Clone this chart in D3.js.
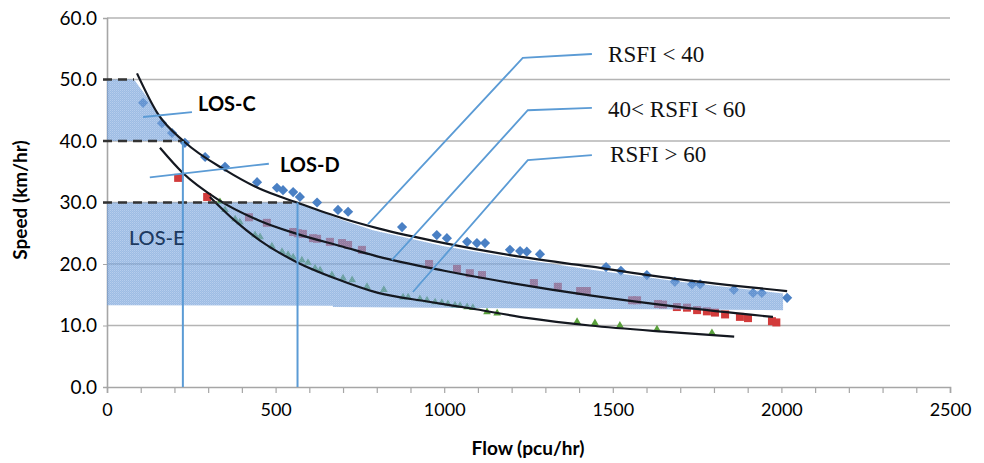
<!DOCTYPE html>
<html><head><meta charset="utf-8">
<script src="https://cdn.jsdelivr.net/npm/d3@7"></script>
<style>body{margin:0;background:#fff}svg{display:block}</style>
</head><body><div id="chart"></div>
<script>
// ---------- data (flow pcu/hr, speed km/hr) ----------
const xTicks = [0, 500, 1000, 1500, 2000, 2500];
const yTicks = [0, 10, 20, 30, 40, 50, 60];
const seriesNames = ["RSFI < 40", "40< RSFI < 60", "RSFI > 60"];

const rsfiLow = [[107,46.2],[163,42.9],[193,41.3],[231,39.7],[291,37.4],[350,35.8],[445,33.3],[504,32.4],[522,32.0],[552,31.7],[572,30.9],[623,30.0],[685,28.8],[715,28.5],[875,26.0],[978,24.7],[1008,24.2],[1068,23.6],[1097,23.4],[1121,23.4],[1195,22.3],[1225,22.1],[1245,22.0],[1284,21.6],[1480,19.5],[1524,18.9],[1601,18.2],[1684,17.1],[1735,16.7],[1759,16.7],[1859,15.8],[1916,15.3],[1942,15.3],[2017,14.5]];
const rsfiMid = [[211,34.0],[297,30.9],[421,27.6],[474,26.7],[552,25.2],[566,25.0],[581,24.9],[611,24.2],[623,24.1],[661,23.6],[697,23.4],[715,23.1],[756,22.3],[955,20.0],[1038,19.2],[1076,18.5],[1112,18.2],[1266,16.9],[1337,16.3],[1403,15.6],[1423,15.6],[1557,14.1],[1572,14.1],[1634,13.5],[1649,13.4],[1690,13.0],[1720,12.9],[1750,12.5],[1779,12.3],[1803,12.1],[1833,11.8],[1877,11.4],[1901,11.2],[1972,10.7],[1985,10.5]];
const rsfiHigh = [[335,30.1],[350,28.8],[380,27.3],[394,26.8],[439,24.7],[454,24.4],[489,22.9],[519,22.0],[537,21.5],[552,21.1],[578,20.6],[596,20.2],[617,19.3],[632,19.0],[667,18.2],[700,17.7],[727,17.4],[771,16.3],[821,15.8],[878,14.6],[893,14.6],[928,14.3],[949,14.1],[973,13.8],[993,13.7],[1011,13.5],[1032,13.3],[1047,13.2],[1068,13.0],[1085,12.9],[1127,12.2],[1157,12.0],[1394,10.6],[1447,10.4],[1521,10.0],[1631,9.4],[1794,8.8]];

// trend lines
const trendLow  = [[89,51.0],[150,44.5],[231,39.8],[350,35.3],[450,32.3],[563,30.0],[700,27.4],[804,25.8],[1000,23.4],[1200,21.4],[1432,19.6],[1700,17.5],[2017,15.6]];
const trendMid  = [[157,38.9],[225,34.8],[326,30.6],[454,27.0],[563,24.9],[700,22.8],[804,21.2],[1000,18.9],[1200,16.9],[1432,14.9],[1700,13.0],[1975,11.4]];
const trendHigh = [[305,30.9],[380,27.0],[454,23.8],[563,20.3],[680,17.6],[804,15.3],[950,13.9],[1076,12.8],[1250,11.2],[1432,10.0],[1650,9.0],[1860,8.2]];

// level-of-service zones
const losC = [[0,50],[80,50],[130,46.3],[175,42.6],[222,40],[0,40]];
const losE = [[0,30],[563,30],[623,28.8],[700,27.1],[789,25.5],[1000,22.9],[1200,21.0],[1432,19.1],[1700,17.1],[2005,15.2],[2005,12.5],[670,13.0],[670,13.2],[0,13.3]];
const losDashes = [[50,80],[40,222],[30,563]];      // [speed, flow end]
const losVerticals = [[225,40],[565,30]];           // [flow, speed top]

const losLabels = [
  {text:"LOS-C", at:[270,44.9], leader:[[107,43.9],[252,44.7]]},
  {text:"LOS-D", at:[513,35.0], leader:[[127,34.1],[480,36.3]]},
  {text:"LOS-E", at:[65,23.1], leader:null}
];
const rsfiLabels = [
  {text:seriesNames[0], at:[1486,52.8], leader:[[1438,54.15],[1233,53.5],[774,26.5]]},
  {text:seriesNames[1], at:[1486,43.9], leader:[[1438,45.4],[1248,45.0],[845,20.65]]},
  {text:seriesNames[2], at:[1492,36.6], leader:[[1438,37.7],[1248,36.9],[907,15.45]]}
];

// ---------- chart ----------
const W = 984, H = 463;
const svg = d3.select("#chart").append("svg").attr("width", W).attr("height", H);
const x = d3.scaleLinear().domain([0, 2500]).range([107, 950]);
const y = d3.scaleLinear().domain([0, 60]).range([387, 18]);
const sans = "Lato, 'Open Sans', sans-serif";

const defs = svg.append("defs");
const pat = defs.append("pattern").attr("id","dots").attr("patternUnits","userSpaceOnUse")
  .attr("width",2).attr("height",2);
pat.append("rect").attr("width",2).attr("height",2).attr("fill","#6b9ad6");
pat.append("rect").attr("x",0).attr("y",0).attr("width",1).attr("height",1).attr("fill","#92b5e4");
pat.append("rect").attr("x",1).attr("y",1).attr("width",1).attr("height",1).attr("fill","#7ea7dc");

// gridlines
svg.append("g").selectAll("line").data(yTicks.filter(d => d > 0)).join("line")
  .attr("x1", x(0)).attr("x2", x(2500)).attr("y1", d => y(d)).attr("y2", d => y(d))
  .attr("stroke", "#b4b4b4").attr("stroke-width", 1.6);

// axes
const yAxis = svg.append("g").attr("transform", `translate(${x(0)},0)`)
  .call(d3.axisLeft(y).tickValues(yTicks).tickFormat(d3.format(".1f")).tickSize(4).tickPadding(6));
yAxis.select(".domain").attr("stroke", "#a6a6a6").attr("stroke-width", 1.6);
yAxis.selectAll(".tick line").attr("stroke", "#a6a6a6");
yAxis.selectAll("text").attr("font-family", sans).attr("font-size", 19).attr("fill", "#000");

const xAxis = svg.append("g").attr("transform", `translate(0,${y(0)})`)
  .call(d3.axisBottom(x).tickValues(d3.range(0, 2501, 100)).tickSize(6).tickPadding(10)
    .tickFormat(d => xTicks.includes(d) ? d : ""));
xAxis.select(".domain").attr("stroke", "#a6a6a6").attr("stroke-width", 1.6);
xAxis.selectAll(".tick line").attr("stroke", "#a6a6a6").attr("stroke-width", 1.2);
xAxis.selectAll("text").attr("font-family", sans).attr("font-size", 18).attr("fill", "#000");

// points
svg.append("g").selectAll("rect").data(rsfiLow).join("rect")
  .attr("x", -3.6).attr("y", -3.6).attr("width", 7.2).attr("height", 7.2)
  .attr("transform", d => `translate(${x(d[0])},${y(d[1])}) rotate(45)`)
  .attr("fill", "#4a80c4");
svg.append("g").selectAll("rect").data(rsfiMid).join("rect")
  .attr("x", d => x(d[0]) - 4).attr("y", d => y(d[1]) - 4).attr("width", 8).attr("height", 8)
  .attr("fill", "#d23b3b");
svg.append("g").selectAll("path").data(rsfiHigh).join("path")
  .attr("d", d3.symbol().type(d3.symbolTriangle).size(26))
  .attr("transform", d => `translate(${x(d[0])},${y(d[1])})`)
  .attr("fill", "#5aa03c");

// LOS shaded zones (semi transparent, over the points)
const area = d3.line().x(d => x(d[0])).y(d => y(d[1]));
[losC, losE].forEach(z => {
  svg.append("path").attr("d", area(z) + "Z").attr("fill", "url(#dots)").attr("fill-opacity", 0.66);
});

// trend lines
const line = d3.line().x(d => x(d[0])).y(d => y(d[1])).curve(d3.curveMonotoneX);
[trendLow, trendMid, trendHigh].forEach(t => {
  svg.append("path").attr("d", line(t)).attr("fill", "none").attr("stroke", "#141820").attr("stroke-width", 2.2);
});

// dashed LOS thresholds
svg.append("g").selectAll("line").data(losDashes).join("line")
  .attr("x1", x(0) - 4).attr("x2", d => x(d[1])).attr("y1", d => y(d[0])).attr("y2", d => y(d[0]))
  .attr("stroke", "#333").attr("stroke-width", 2.4).attr("stroke-dasharray", "9,6");

// vertical blue lines
svg.append("g").selectAll("line").data(losVerticals).join("line")
  .attr("x1", d => x(d[0])).attr("x2", d => x(d[0])).attr("y1", d => y(d[1])).attr("y2", y(0))
  .attr("stroke", "#5b9bd5").attr("stroke-width", 2);

// leaders
const lead = d3.line().x(d => x(d[0])).y(d => y(d[1]));
[...losLabels, ...rsfiLabels].filter(l => l.leader).forEach(l => {
  svg.append("path").attr("d", lead(l.leader)).attr("fill", "none")
    .attr("stroke", "#5b9bd5").attr("stroke-width", 1.8);
});

// labels
losLabels.forEach(l => {
  svg.append("text").attr("x", x(l.at[0])).attr("y", y(l.at[1])).text(l.text)
    .attr("font-family", sans).attr("font-size", 20)
    .attr("font-weight", l.text === "LOS-E" ? 500 : 700)
    .attr("fill", l.text === "LOS-E" ? "#1d3a60" : "#000");
});
rsfiLabels.forEach(l => {
  svg.append("text").attr("x", x(l.at[0])).attr("y", y(l.at[1])).text(l.text)
    .attr("font-family", "'Liberation Serif', 'Times New Roman', serif").attr("font-size", 23).attr("fill", "#111");
});

// axis titles
svg.append("text").attr("x", 528).attr("y", 455).attr("text-anchor", "middle")
  .attr("font-family", sans).attr("font-weight", 700).attr("font-size", 19).text("Flow (pcu/hr)");
svg.append("text").attr("transform", "translate(27,200) rotate(-90)").attr("text-anchor", "middle")
  .attr("font-family", sans).attr("font-weight", 700).attr("font-size", 19).text("Speed (km/hr)");
</script></body></html>
